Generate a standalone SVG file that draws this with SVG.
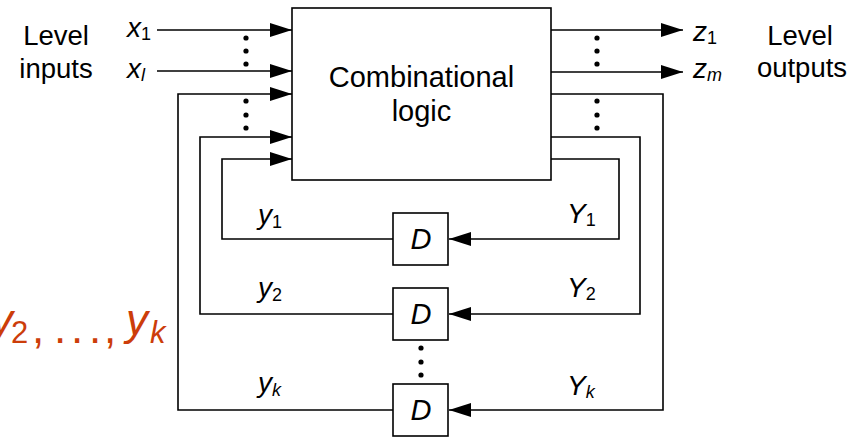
<svg xmlns="http://www.w3.org/2000/svg" width="848" height="437" viewBox="0 0 848 437">
<style>
text{font-family:"Liberation Sans",Arial,sans-serif;fill:#000}
.lbl{font-size:27.5px}
.it{font-size:28px;font-style:italic}
.sub{font-size:18px;font-style:normal}
.subi{font-size:18px;font-style:italic}
.box{fill:#fff;stroke:#000;stroke-width:1.6}
.wire{fill:none;stroke:#000;stroke-width:1.6}
.dot{fill:#000}
</style>
<defs>
<marker id="arr" viewBox="0 0 22 14" refX="22" refY="7" markerWidth="22" markerHeight="14" markerUnits="userSpaceOnUse" orient="auto">
<path d="M0,0 L22,7 L0,14 Z" fill="#000"/>
</marker>
</defs>
<g id="connectors">
<path class="wire" d="M157,30 H292" marker-end="url(#arr)"/>
<path class="wire" d="M157,71 H292" marker-end="url(#arr)"/>
<path class="wire" d="M393,410 H178 V94 H292" marker-end="url(#arr)"/>
<path class="wire" d="M393,314 H200 V137 H292" marker-end="url(#arr)"/>
<path class="wire" d="M393,239 H222 V159 H292" marker-end="url(#arr)"/>
<path class="wire" d="M551,30 H683" marker-end="url(#arr)"/>
<path class="wire" d="M551,72 H683" marker-end="url(#arr)"/>
<path class="wire" d="M551,94 H663 V410 H449" marker-end="url(#arr)"/>
<path class="wire" d="M551,137 H640 V314 H449" marker-end="url(#arr)"/>
<path class="wire" d="M551,159 H619 V239 H449" marker-end="url(#arr)"/>
<g class="dot">
<circle cx="246" cy="38" r="2.6"/><circle cx="246" cy="51" r="2.6"/><circle cx="246" cy="64" r="2.6"/>
<circle cx="246" cy="101" r="2.6"/><circle cx="246" cy="115" r="2.6"/><circle cx="246" cy="128" r="2.6"/>
<circle cx="597" cy="38" r="2.6"/><circle cx="597" cy="51" r="2.6"/><circle cx="597" cy="64" r="2.6"/>
<circle cx="597" cy="101" r="2.6"/><circle cx="597" cy="115" r="2.6"/><circle cx="597" cy="128" r="2.6"/>
<circle cx="421" cy="348" r="2.6"/><circle cx="421" cy="362" r="2.6"/><circle cx="421" cy="375" r="2.6"/>
</g>
<text class="it" x="258" y="224">y<tspan class="sub" dy="4">1</tspan></text>
<text class="it" x="258" y="297">y<tspan class="sub" dy="4">2</tspan></text>
<text class="it" x="258" y="392">y<tspan class="subi" dy="4">k</tspan></text>
<text class="it" x="567" y="223">Y<tspan class="sub" dy="3">1</tspan></text>
<text class="it" x="567" y="297">Y<tspan class="sub" dy="3">2</tspan></text>
<text class="it" x="567" y="395">Y<tspan class="subi" dy="3">k</tspan></text>
</g>
<g id="logic">
<rect class="box" x="292" y="8" width="259" height="172"/>
<text x="421.5" y="87" text-anchor="middle" style="font-size:29px">Combinational</text>
<text x="421.5" y="121" text-anchor="middle" style="font-size:29px">logic</text>
</g>
<g id="d1">
<rect class="box" x="393" y="213" width="55" height="52"/>
<text class="it" x="421" y="249" text-anchor="middle" style="font-size:29px">D</text>
</g>
<g id="d2">
<rect class="box" x="393" y="288" width="55" height="52"/>
<text class="it" x="421" y="324" text-anchor="middle" style="font-size:29px">D</text>
</g>
<g id="dk">
<rect class="box" x="393" y="384" width="55" height="52"/>
<text class="it" x="421" y="420" text-anchor="middle" style="font-size:29px">D</text>
</g>
<g id="inputs">
<text class="lbl" x="56" y="45" text-anchor="middle">Level</text>
<text class="lbl" x="56" y="78" text-anchor="middle">inputs</text>
<text class="it" x="127" y="37">x<tspan class="sub" dy="3">1</tspan></text>
<text class="it" x="127" y="78">x<tspan class="subi" dy="3">l</tspan></text>
</g>
<g id="outputs">
<text class="it" x="693" y="41">z<tspan class="sub" dy="3">1</tspan></text>
<text class="it" x="693" y="78">z<tspan class="subi" dy="3">m</tspan></text>
<text class="lbl" x="800" y="45" text-anchor="middle">Level</text>
<text class="lbl" x="802" y="77" text-anchor="middle">outputs</text>
</g>
<g id="state-note">
<text style="font-size:44px;fill:#cc3d0a" y="335"><tspan x="-9" font-style="italic">y</tspan><tspan x="11" dy="8" style="font-size:31px">2</tspan><tspan x="32">,</tspan><tspan x="54">.</tspan><tspan x="71">.</tspan><tspan x="89">.</tspan><tspan x="104">,</tspan><tspan x="126" dy="-8" font-style="italic">y</tspan><tspan x="150" dy="8" font-style="italic" style="font-size:31px">k</tspan></text>
</g>
</svg>
